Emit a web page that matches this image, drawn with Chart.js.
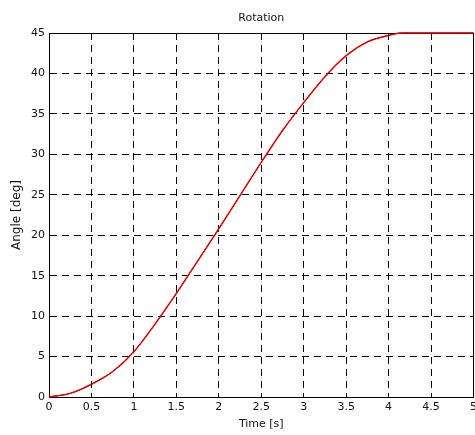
<!DOCTYPE html>
<html>
<head>
<meta charset="utf-8">
<script src="https://cdn.jsdelivr.net/npm/chart.js@4/dist/chart.umd.min.js"></script>
<style>
  html, body { margin: 0; padding: 0; background: #fff; }
  #wrap { width: 475px; height: 435px; }
</style>
</head>
<body>
<div id="wrap"><canvas id="rotationChart" width="475" height="435"></canvas></div>
<script>
// values
const timeS = [0, 0.25, 0.5, 0.75, 1, 1.25, 1.5, 1.75, 2, 2.25, 2.5, 2.75, 3, 3.25, 3.5, 3.75, 4, 4.15, 4.5, 5];
const angleBlack = [0, 0.45, 1.55, 3.15, 5.6, 9.0, 12.8, 16.8, 20.8, 24.9, 29.0, 32.9, 36.4, 39.6, 42.2, 43.9, 44.7, 45, 45, 45];
const angleRed = [0, 0.45, 1.6, 3.15, 5.6, 9.05, 12.8, 16.8, 20.8, 24.9, 29.0, 32.95, 36.4, 39.6, 42.2, 43.9, 44.7, 45, 45, 45];
const xTickValues = [0, 0.5, 1, 1.5, 2, 2.5, 3, 3.5, 4, 4.5, 5];
const yTickValues = [0, 5, 10, 15, 20, 25, 30, 35, 40, 45];

document.addEventListener('DOMContentLoaded', () => {
    const font = { family: '"DejaVu Sans", sans-serif', size: 11, lineHeight: 1.2 };
    const toPoints = arr => arr.map((v, i) => ({ x: timeS[i], y: v }));
    // no extra room for the last tick label, like the reference ("5" gets cut)
    const noPad = scale => { scale.paddingLeft = 0; scale.paddingRight = 0; };

    const ctx = document.getElementById('rotationChart').getContext('2d');
    const rotationChart = new Chart(ctx, {
        type: 'line',
        data: {
            datasets: [{
                label: 'black',
                data: toPoints(angleBlack),
                borderColor: '#000',
                borderWidth: 1,
                pointRadius: 0,
                cubicInterpolationMode: 'monotone',
                clip: 4,
                order: 2
            }, {
                label: 'red',
                data: toPoints(angleRed),
                borderColor: '#f00000',
                borderWidth: 1.4,
                pointRadius: 0,
                cubicInterpolationMode: 'monotone',
                clip: 4,
                order: 1
            }]
        },
        options: {
            responsive: false,
            animation: false,
            layout: { padding: 0 },
            plugins: {
                legend: { display: false },
                tooltip: { enabled: false }
            },
            scales: {
                x: {
                    type: 'linear',
                    position: 'bottom',
                    min: 0,
                    max: 5,
                    afterBuildTicks: scale => { scale.ticks = xTickValues.map(v => ({ value: v })); },
                    afterFit: scale => { scale.height = 38; noPad(scale); },
                    ticks: {
                        color: '#111',
                        font: font,
                        padding: 4,
                        maxRotation: 0,
                        callback: value => String(value)
                    },
                    grid: { color: '#000', lineWidth: 1, drawTicks: false },
                    border: { display: true, color: '#000', width: 1, dash: [7, 5] },
                    title: {
                        display: true,
                        text: 'Time [s]',
                        color: '#111',
                        font: font,
                        padding: { top: 0, bottom: 4.1 }
                    }
                },
                x2: {
                    type: 'linear',
                    position: 'top',
                    min: 0,
                    max: 5,
                    afterFit: scale => { scale.height = 33; noPad(scale); },
                    ticks: { display: false },
                    grid: { display: false },
                    border: { display: true, color: '#000', width: 1 },
                    title: {
                        display: true,
                        text: 'Rotation',
                        color: '#111',
                        font: font,
                        padding: { top: 11.6, bottom: 0 }
                    }
                },
                y: {
                    type: 'linear',
                    position: 'left',
                    min: 0,
                    max: 45,
                    afterBuildTicks: scale => { scale.ticks = yTickValues.map(v => ({ value: v })); },
                    afterFit: scale => { scale.width = 49; },
                    ticks: {
                        color: '#111',
                        font: font,
                        padding: 4,
                        callback: value => String(value)
                    },
                    grid: { color: '#000', lineWidth: 1, drawTicks: false },
                    border: { display: true, color: '#000', width: 1, dash: [7, 5] },
                    title: {
                        display: true,
                        text: 'Angle [deg]',
                        color: '#111',
                        font: { family: '"DejaVu Sans", sans-serif', size: 12, lineHeight: 1.2 },
                        padding: { top: 9.5, bottom: 0 }
                    }
                },
                y2: {
                    type: 'linear',
                    position: 'right',
                    min: 0,
                    max: 45,
                    afterFit: scale => { scale.width = 1.5; },
                    ticks: { display: false },
                    grid: { display: false },
                    border: { display: true, color: '#000', width: 1 }
                }
            }
        }
    });
});
</script>
</body>
</html>
